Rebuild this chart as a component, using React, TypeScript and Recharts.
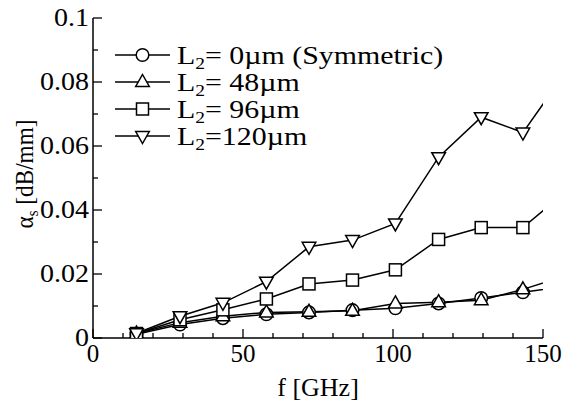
import { LineChart, Line, XAxis, YAxis } from "recharts";

// frequency points in GHz (last point lies past the axis end, line runs off the frame)
const FREQ = [14.5, 29, 43.3, 57.8, 72, 86.5, 100.8, 115.2, 129.4, 143.3, 157.8];

// attenuation alpha_s in dB/mm, one array per stub length
const L0 = [0.0012, 0.0042, 0.0062, 0.0074, 0.008, 0.0087, 0.0093, 0.0108, 0.0125, 0.0143, 0.0162];
const L48 = [0.0014, 0.0048, 0.0068, 0.008, 0.0082, 0.0085, 0.0108, 0.0112, 0.0118, 0.0152, 0.0195];
const L96 = [0.0014, 0.0057, 0.0088, 0.0122, 0.0169, 0.0181, 0.0213, 0.0308, 0.0345, 0.0345, 0.0459];
const L120 = [0.0015, 0.0068, 0.011, 0.0176, 0.0285, 0.0306, 0.0358, 0.0565, 0.069, 0.0642, 0.0834];

const SERIES = [
  { key: "l0", values: L0, shape: "circle", text: "= 0µm (Symmetric)" },
  { key: "l48", values: L48, shape: "up", text: "= 48µm" },
  { key: "l96", values: L96, shape: "square", text: "= 96µm" },
  { key: "l120", values: L120, shape: "down", text: "=120µm" },
];

const X_TICKS = [0, 10, 20, 30, 40, 50, 60, 70, 80, 90, 100, 110, 120, 130, 140, 150];
const X_LABELS = [0, 50, 100, 150];
const Y_TICKS = [0, 0.01, 0.02, 0.03, 0.04, 0.05, 0.06, 0.07, 0.08, 0.09, 0.1];
const Y_LABELS = ["0", "0.02", "0.04", "0.06", "0.08", "0.1"];

const rows = FREQ.map((f, i) => {
  const r: Record<string, number> = { f };
  SERIES.forEach((s) => (r[s.key] = s.values[i]));
  return r;
});

const FONT = "Liberation Serif, Times New Roman, DejaVu Serif, serif";
const MAJOR = 9;
const MINOR = 5;

function SText({ x, y, size, sx = 1, anchor = "start", children }: any) {
  return (
    <text
      transform={`translate(${x},${y}) scale(${sx},1)`}
      textAnchor={anchor}
      fill="#000"
      style={{ whiteSpace: "pre", fontFamily: FONT, fontSize: size }}
    >
      {children}
    </text>
  );
}

function Marker({ shape, cx, cy }: any) {
  const st = { fill: "#fff", stroke: "#000", strokeWidth: 1.5 };
  if (shape === "circle") return <circle cx={cx} cy={cy} r={6.3} {...st} />;
  if (shape === "square") return <rect x={cx - 6} y={cy - 6} width={12} height={12} {...st} />;
  if (shape === "up")
    return <polygon points={`${cx},${cy - 7.5} ${cx + 6.8},${cy + 4.5} ${cx - 6.8},${cy + 4.5}`} {...st} />;
  return <polygon points={`${cx},${cy + 7.5} ${cx + 6.8},${cy - 4.5} ${cx - 6.8},${cy - 4.5}`} {...st} />;
}

const isMajorX = (v: number) => X_LABELS.includes(v);
const yLabel = (v: number) => Y_LABELS.find((l) => Math.abs(Number(l) - v) < 1e-9);

function XTickBottom({ x, y, payload }: any) {
  const major = isMajorX(payload.value);
  return (
    <g>
      <line x1={x} x2={x} y1={y} y2={y - (major ? MAJOR : MINOR)} stroke="#000" strokeWidth={1.3} />
      {major && (
        <SText x={x} y={y + 24} size={25} anchor="middle">
          {String(payload.value)}
        </SText>
      )}
    </g>
  );
}

function XTickTop({ x, y, payload }: any) {
  const major = isMajorX(payload.value);
  return <line x1={x} x2={x} y1={y} y2={y + (major ? MAJOR : MINOR)} stroke="#000" strokeWidth={1.3} />;
}

function YTickLeft({ x, y, payload }: any) {
  const lbl = yLabel(payload.value);
  return (
    <g>
      <line x1={x} x2={x + (lbl ? MAJOR : MINOR)} y1={y} y2={y} stroke="#000" strokeWidth={1.3} />
      {lbl && (
        <SText x={x - 4} y={y + 8} size={25} sx={1.12} anchor="end">
          {lbl}
        </SText>
      )}
    </g>
  );
}

function YTickRight({ x, y, payload }: any) {
  const lbl = yLabel(payload.value);
  return <line x1={x} x2={x - (lbl ? MAJOR : MINOR)} y1={y} y2={y} stroke="#000" strokeWidth={1.3} />;
}

function XTitle() {
  return (
    <SText x={318} y={396} size={26} anchor="middle">
      f [GHz]
    </SText>
  );
}

function YTitle() {
  return (
    <text
      transform="translate(33,174) rotate(-90) scale(0.93,1)"
      textAnchor="middle"
      fill="#000"
      style={{ fontFamily: FONT, fontSize: 25 }}
    >
      α<tspan style={{ fontSize: 16 }} dy={5}>s</tspan>
      <tspan dy={-5}> [dB/mm]</tspan>
    </text>
  );
}

function LegendBox() {
  return (
    <svg width={570} height={405} style={{ position: "absolute", left: 0, top: 0, pointerEvents: "none" }}>
      {SERIES.map((s, i) => {
        const cy = 55 + i * 27;
        return (
          <g key={s.key}>
            <line x1={115} x2={170} y1={cy} y2={cy} stroke="#000" strokeWidth={1.5} />
            <Marker shape={s.shape} cx={142.5} cy={cy} />
            <SText x={177} y={cy + 9} size={24.5} sx={1.22}>
              L<tspan style={{ fontSize: 16 }} dy={5}>2</tspan>
              <tspan dy={-5}>{s.text}</tspan>
            </SText>
          </g>
        );
      })}
    </svg>
  );
}

const axisLine = { stroke: "#000", strokeWidth: 1.5 };

export default function App() {
  return (
    <div
      style={{
        position: "absolute",
        left: 0,
        top: 0,
        width: 570,
        height: 405,
        background: "#fff",
        fontFamily: FONT,
      }}
    >
      <LineChart width={570} height={405} data={rows} margin={{ top: 18, right: 27, bottom: 0, left: 0 }}>
        <XAxis
          xAxisId="b"
          type="number"
          dataKey="f"
          domain={[0, 150]}
          allowDataOverflow
          ticks={X_TICKS}
          interval={0}
          height={67}
          tickSize={0}
          tickMargin={0}
          tickLine={false}
          axisLine={axisLine}
          tick={XTickBottom}
          label={<XTitle />}
        />
        <XAxis
          xAxisId="t"
          orientation="top"
          type="number"
          dataKey="f"
          domain={[0, 150]}
          allowDataOverflow
          ticks={X_TICKS}
          interval={0}
          height={0}
          tickSize={0}
          tickMargin={0}
          tickLine={false}
          axisLine={axisLine}
          tick={XTickTop}
        />
        <YAxis
          yAxisId="l"
          type="number"
          domain={[0, 0.1]}
          allowDataOverflow
          ticks={Y_TICKS}
          interval={0}
          width={93}
          tickSize={0}
          tickMargin={0}
          tickLine={false}
          axisLine={axisLine}
          tick={YTickLeft}
          label={<YTitle />}
        />
        <YAxis
          yAxisId="r"
          orientation="right"
          type="number"
          domain={[0, 0.1]}
          allowDataOverflow
          ticks={Y_TICKS}
          interval={0}
          width={0}
          tickSize={0}
          tickMargin={0}
          tickLine={false}
          axisLine={axisLine}
          tick={YTickRight}
        />
        {SERIES.map((s) => (
          <Line
            key={s.key}
            xAxisId="b"
            yAxisId="l"
            dataKey={s.key}
            type="linear"
            stroke="#000"
            strokeWidth={1.5}
            isAnimationActive={false}
            dot={(p: any) => <Marker key={`${s.key}-${p.index}`} shape={s.shape} cx={p.cx} cy={p.cy} />}
            activeDot={false}
          />
        ))}
      </LineChart>
      <LegendBox />
    </div>
  );
}
